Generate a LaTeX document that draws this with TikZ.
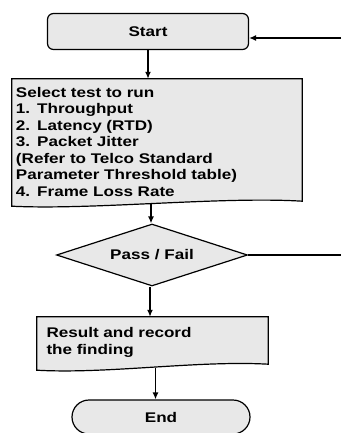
\documentclass[tikz,border=0pt]{standalone}
\usepackage{fontspec}
\setmainfont{Liberation Sans}[FakeStretch=1.22]
\usetikzlibrary{shapes.geometric,arrows.meta}

\tikzset{
  box/.style={draw, line width=1.2pt, fill=black!9, font=\bfseries\fontsize{14}{16.5}\selectfont},
  flow/.style={line width=1.4pt, -{Latex[length=7pt,width=6pt]}}
}

\begin{document}
\begin{tikzpicture}[x=1pt,y=-1pt]
  \useasboundingbox (0,0) rectangle (341,433);
  % start
  \node[box, rounded corners=6pt, minimum width=201pt, minimum height=36pt] (start) at (148,31.5) {Start};
  % select test
  \node[minimum width=290pt, minimum height=125pt] (select) at (157,141.5) {};
  \draw[box] (select.north west) -- (select.north east) -- ([yshift=3pt]select.south east)
    .. controls ([xshift=-80pt,yshift=8pt]select.south east) and ([xshift=80pt,yshift=-6pt]select.south west)
    .. ([yshift=-2pt]select.south west) -- cycle;
  \node[text width=282pt, align=left, font=\bfseries\fontsize{14}{16.5}\selectfont] at (select) {Select test to run\\
    1. Throughput\\
    2. Latency (RTD)\\
    3. Packet Jitter\\
    (Refer to Telco Standard\\
    Parameter Threshold table)\\
    4. Frame Loss Rate};
  % decision
  \node[box, diamond, aspect=3, minimum width=191pt, minimum height=62pt, inner sep=0pt] (pf) at (152,255) {Pass / Fail};
  % result
  \node[minimum width=231pt, minimum height=51pt] (res) at (152.5,342.5) {};
  \draw[box] (res.north west) -- (res.north east) -- ([yshift=4pt]res.south east)
    .. controls ([xshift=-70pt,yshift=8pt]res.south east) and ([xshift=70pt,yshift=-6pt]res.south west)
    .. ([yshift=-2pt]res.south west) -- cycle;
  \node[text width=212pt, align=left, font=\bfseries\fontsize{14}{16.5}\selectfont] at (res) {Result and record\\the finding};
  % end
  \node[box, rounded corners=17pt, minimum width=178pt, minimum height=34pt] (endn) at (161,417) {End};
  % return lines
  \coordinate (rt1) at (341,38);
  \coordinate (rt2) at (341,255);
  \draw[line width=1.2pt] (pf.east) -- (rt2);
  \draw[flow] (rt1) -- (rt1 -| start.east);
  % arrows down
  \draw[flow] (start.south) -- (start.south |- select.north);
  \draw[flow] ([xshift=-6pt]select.south) -- ([xshift=-6pt]select.south |- pf.north);
  \draw[flow] ([xshift=-2pt]pf.south) -- ([xshift=-2pt]pf.south |- res.north);
  \draw[flow] ([xshift=3pt]res.south) -- ([xshift=3pt]res.south |- endn.north);
\end{tikzpicture}
\end{document}
